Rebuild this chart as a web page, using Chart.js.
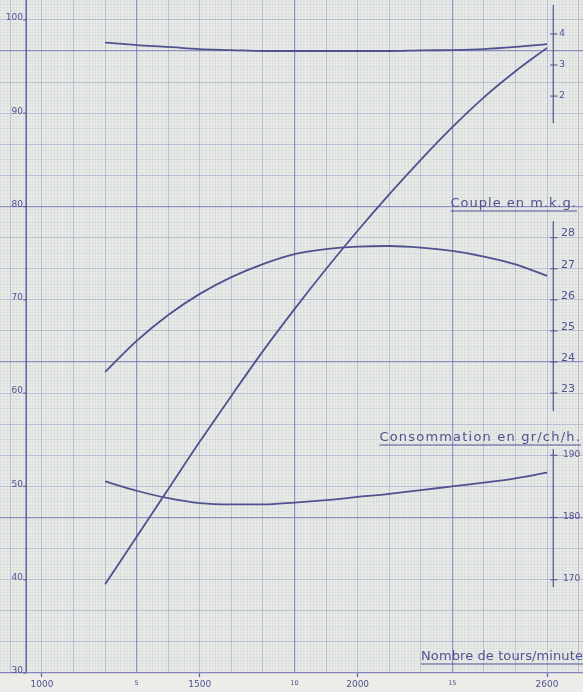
<!doctype html>
<html lang="fr">
<head>
<meta charset="utf-8">
<title>Courbes caractéristiques du moteur</title>
<script src="https://cdn.jsdelivr.net/npm/chart.js"></script>
<style>
  html, body { margin: 0; padding: 0; background: #ecede9; }
  #cadre { width: 583px; height: 692px; position: relative; }
</style>
</head>
<body>
<div id="cadre"><canvas id="moteur"></canvas></div>
<script>
// régime en tours/minute
const regime = [1200, 1300, 1400, 1500, 1600, 1700, 1800, 1900, 2000, 2100, 2200, 2300, 2400, 2500, 2600];
// puissance en ch (échelle de gauche)
const puissance = [39.5, 44.6, 49.7, 54.8, 59.7, 64.5, 69.0, 73.3, 77.4, 81.3, 85.0, 88.5, 91.7, 94.5, 97.0];
// couple en m.kg
const couple = [23.68, 24.68, 25.51, 26.19, 26.73, 27.15, 27.47, 27.63, 27.71, 27.73, 27.68, 27.57, 27.39, 27.14, 26.77];
// consommation en gr/ch/h
const consommation = [185.8, 184.3, 183.1, 182.3, 182.1, 182.1, 182.4, 182.8, 183.3, 183.8, 184.4, 185.0, 185.6, 186.3, 187.2];
// courbe du haut (échelle 2 - 4 à droite)
const courbeHaute = [3.72, 3.64, 3.58, 3.51, 3.48, 3.45, 3.45, 3.45, 3.45, 3.45, 3.47, 3.48, 3.51, 3.58, 3.67];

const reperesRegime = [1000, 1300, 1500, 1800, 2000, 2300, 2600];
const etiquettesRegime = ['1000', '5', '1500', '10', '2000', '15', '2600'];
const reperesPuissance = [30, 40, 50, 60, 70, 80, 90, 100];
const reperesCouple = [23, 24, 25, 26, 27, 28];
const reperesConso = [170, 180, 190];
const reperesHaut = [2, 3, 4];

// papier millimétré : hauteur utile en cm, 1 cm = 100 tr/min
const HAUTEUR_CM = 21.64;
const X_MIN = 867, X_MAX = 2714;
const REGIME_AXE_GAUCHE = 950, REGIME_AXE_DROIT = 2620;

const encre = '#50528f';
const trait = '#5d609c';

const versTicks = arr => arr.map(v => ({ value: v }));
const pas = (de, a, p) => { const out = []; for (let i = Math.round(de / p); i * p <= a + 1e-9; i++) out.push(+(i * p).toFixed(2)); return out; };

function taille(w, h) {
  return s => {
    if (w !== null) s.width = w;
    if (h !== null) s.height = h;
    s.paddingTop = s.paddingBottom = s.paddingLeft = s.paddingRight = 0;
  };
}

function typeLigneX(v) {
  v = Math.round(v);
  if ((v - 1300) % 500 === 0) return 3;
  if (v % 100 === 0) return 2;
  if (v % 50 === 0) return 1;
  return 0;
}
function typeLigneY(v) {
  const i = Math.round(v * 10);
  if (i % 50 === 0) return 3;
  if (i % 10 === 0) return 2;
  if (i % 5 === 0) return 1;
  return 0;
}
const couleursGrille = ['rgba(150,155,202,0.18)', 'rgba(140,146,196,0.30)', 'rgba(124,130,188,0.52)', 'rgba(108,114,178,0.74)'];
const epaisseursGrille = [0.5, 0.5, 0.8, 1.2];

const legendes = [
  { texte: 'Couple en m.k.g.', droite: 577, ligne: 207, espace: 1.0 },
  { texte: 'Consommation en gr/ch/h.', droite: 581, ligne: 441, espace: 1.2 },
  { texte: 'Nombre de tours/minute', droite: 583, ligne: 660, espace: 0.1 }
];

// tronçons d'axes tracés à droite (valeurs de chaque échelle)
const segmentsAxes = [
  { axe: 'yS', de: 1.13, a: 4.93 },
  { axe: 'yT', de: 22.42, a: 28.53 },
  { axe: 'yC', de: 168.8, a: 191.0 }
];

const papier = {
  id: 'papier',
  beforeDraw(chart) {
    const { ctx, chartArea: a } = chart;
    ctx.save();
    ctx.fillStyle = '#e8eae5';
    ctx.fillRect(a.left, a.top, a.right - a.left, a.bottom - a.top);
    ctx.restore();
  }
};

const habillage = {
  id: 'habillage',
  afterDatasetsDraw(chart) {
    const { ctx, scales, chartArea } = chart;
    const xg = scales.x.getPixelForValue(REGIME_AXE_GAUCHE);
    const xd = scales.x.getPixelForValue(REGIME_AXE_DROIT);
    ctx.save();
    ctx.strokeStyle = trait;
    // axe de gauche (puissance) et ses repères
    ctx.lineWidth = 1.5;
    ctx.beginPath();
    ctx.moveTo(xg, chartArea.top);
    ctx.lineTo(xg, chartArea.bottom);
    ctx.stroke();
    ctx.lineWidth = 1.2;
    scales.yP.ticks.forEach(t => {
      const y = scales.yP.getPixelForValue(t.value);
      ctx.beginPath();
      ctx.moveTo(xg - 3, y);
      ctx.lineTo(xg, y);
      ctx.stroke();
    });
    // axes de droite : tronçons et croix
    segmentsAxes.forEach(s => {
      const sc = scales[s.axe];
      ctx.lineWidth = 1.4;
      ctx.beginPath();
      ctx.moveTo(xd, sc.getPixelForValue(s.de));
      ctx.lineTo(xd, sc.getPixelForValue(s.a));
      ctx.stroke();
      ctx.lineWidth = 1.2;
      sc.ticks.forEach(t => {
        const y = sc.getPixelForValue(t.value);
        ctx.beginPath();
        ctx.moveTo(xd - 3, y);
        ctx.lineTo(xd + 4, y);
        ctx.stroke();
      });
    });
    // légendes soulignées
    ctx.fillStyle = encre;
    ctx.strokeStyle = encre;
    ctx.font = '13px "DejaVu Sans"';
    ctx.textAlign = 'left';
    ctx.textBaseline = 'alphabetic';
    legendes.forEach(l => {
      ctx.letterSpacing = l.espace + 'px';
      const w = ctx.measureText(l.texte).width;
      const x0 = l.droite - w;
      ctx.fillText(l.texte, x0, l.ligne);
      ctx.lineWidth = 1.2;
      ctx.beginPath();
      ctx.moveTo(x0, l.ligne + 4);
      ctx.lineTo(l.droite, l.ligne + 4);
      ctx.stroke();
    });
    ctx.restore();
  }
};

const courbe = (donnees, axe) => ({
  data: regime.map((r, i) => ({ x: r, y: donnees[i] })),
  xAxisID: 'x',
  yAxisID: axe,
  borderColor: encre,
  borderWidth: 1.8,
  pointRadius: 0,
  fill: false,
  cubicInterpolationMode: 'monotone'
});

// échelle dont les étiquettes s'alignent à droite sur le régime "ancre"
const echelle = (ancre, min, max, reperes, taillePolice, decalage) => ({
  type: 'linear',
  axis: 'y',
  position: { x: ancre },
  min: min,
  max: max,
  afterBuildTicks: s => { s.ticks = versTicks(reperes); },
  afterFit: taille(0, null),
  grid: { display: false, drawTicks: false },
  border: { display: false },
  ticks: { color: encre, font: { family: 'DejaVu Sans', size: taillePolice }, padding: 0, labelOffset: decalage }
});

new Chart(document.getElementById('moteur'), {
  type: 'line',
  data: {
    datasets: [
      courbe(puissance, 'yP'),
      courbe(couple, 'yT'),
      courbe(consommation, 'yC'),
      courbe(courbeHaute, 'yS')
    ]
  },
  options: {
    responsive: true,
    maintainAspectRatio: false,
    animation: false,
    events: [],
    layout: { padding: 0 },
    plugins: { legend: { display: false }, tooltip: { enabled: false } },
    scales: {
      x: {
        type: 'linear',
        position: 'bottom',
        min: X_MIN,
        max: X_MAX,
        afterBuildTicks: s => { s.ticks = versTicks(reperesRegime); },
        afterFit: taille(null, 19),
        grid: {
          drawOnChartArea: false, drawTicks: true, tickLength: 4, tickWidth: 1.2,
          tickColor: c => (c.index % 2 === 0 ? trait : 'rgba(0,0,0,0)')
        },
        border: { display: true, color: 'rgba(108,114,178,0.82)', width: 1.3 },
        ticks: {
          autoSkip: false, maxRotation: 0, padding: 2, color: encre,
          font: c => ({ family: 'DejaVu Sans', size: c.index % 2 === 0 ? 9 : 6.5 }),
          callback: (v, i) => etiquettesRegime[i]
        }
      },
      xg: {
        type: 'linear',
        position: 'bottom',
        min: X_MIN,
        max: X_MAX,
        afterBuildTicks: s => { s.ticks = versTicks(pas(870, 2710, 10)); },
        afterFit: taille(null, 0),
        grid: {
          drawTicks: false,
          color: c => couleursGrille[typeLigneX(c.tick.value)],
          lineWidth: c => epaisseursGrille[typeLigneX(c.tick.value)]
        },
        border: { display: false },
        ticks: { display: false }
      },
      yg: {
        type: 'linear',
        position: 'left',
        min: 0,
        max: HAUTEUR_CM,
        afterBuildTicks: s => { s.ticks = versTicks(pas(0.1, HAUTEUR_CM, 0.1)); },
        afterFit: taille(0, null),
        grid: {
          drawTicks: false,
          color: c => couleursGrille[typeLigneY(c.tick.value)],
          lineWidth: c => epaisseursGrille[typeLigneY(c.tick.value)]
        },
        border: { display: false },
        ticks: { display: false }
      },
      yP: echelle(940, 30, 30 + HAUTEUR_CM * 10 / 3, reperesPuissance, 9, -2),
      yT: echelle(2689, 14, 14 + HAUTEUR_CM, reperesCouple, 11, -4),
      yC: echelle(2705, 155, 155 + 5 * HAUTEUR_CM, reperesConso, 9, -1),
      yS: echelle(2657, -16.55, HAUTEUR_CM - 16.55, reperesHaut, 9, 0)
    }
  },
  plugins: [papier, habillage]
});
</script>
</body>
</html>
